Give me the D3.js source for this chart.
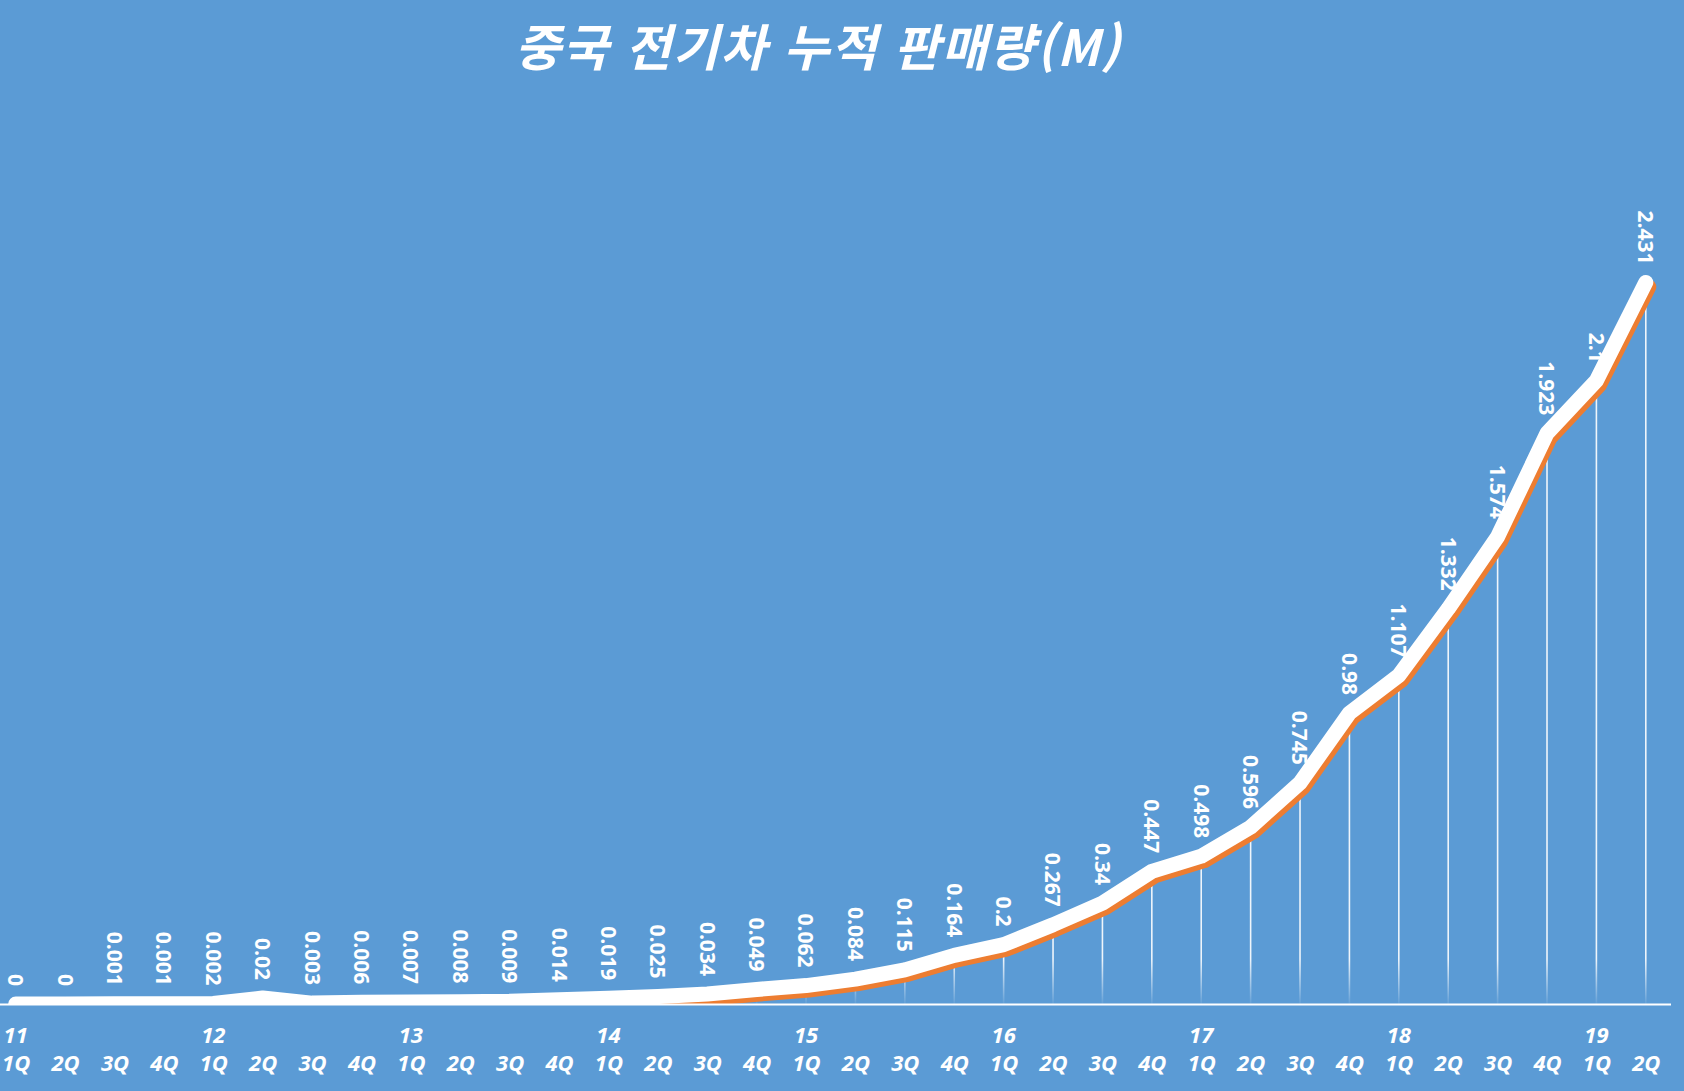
<!DOCTYPE html>
<html lang="ko">
<head>
<meta charset="utf-8">
<title>중국 전기차 누적 판매량</title>
<script src="https://cdn.jsdelivr.net/npm/d3@7"></script>
<style>
  html, body { margin: 0; padding: 0; background: #5b9bd5; overflow: hidden; }
</style>
</head>
<body>
<div id="line-chart"></div>
<script>
// Chart data
const years = ["11", "12", "13", "14", "15", "16", "17", "18", "19"];
const quarters = ["1Q", "2Q", "3Q", "4Q"];
const sales = [
  0, 0, 0.001, 0.001,
  0.002, 0.02, 0.003, 0.006,
  0.007, 0.008, 0.009, 0.014,
  0.019, 0.025, 0.034, 0.049,
  0.062, 0.084, 0.115, 0.164,
  0.2, 0.267, 0.34, 0.447,
  0.498, 0.596, 0.745, 0.98,
  1.107, 1.332, 1.574, 1.923,
  2.1, 2.431
];
const salesLabels = [
  "0", "0", "0.001", "0.001",
  "0.002", "0.02", "0.003", "0.006",
  "0.007", "0.008", "0.009", "0.014",
  "0.019", "0.025", "0.034", "0.049",
  "0.062", "0.084", "0.115", "0.164",
  "0.2", "0.267", "0.34", "0.447",
  "0.498", "0.596", "0.745", "0.98",
  "1.107", "1.332", "1.574", "1.923",
  "2.1", "2.431"
];
const chartTitle = "중국 전기차 누적 판매량(M)";

// One category per quarter, "11 1Q" ... "19 2Q"
const categories = years
  .flatMap(y => quarters.map(q => `${y} ${q}`))
  .slice(0, sales.length);

// Size of the page and of the plot area
const width = 1684;
const height = 1091;
const plot = { left: -9, right: 1670.5, top: 113.6, bottom: 1004 };

const svg = d3.select("#line-chart")
  .append("svg")
  .attr("width", width)
  .attr("height", height);

svg.append("rect")
  .attr("width", width)
  .attr("height", height)
  .attr("fill", "#5b9bd5");

// Scales
const x = d3.scalePoint()
  .domain(categories)
  .range([plot.left, plot.right])
  .padding(0.5);

const y = d3.scaleLinear()
  .domain([0, 3])
  .range([plot.bottom, plot.top]);

const points = categories.map((c, i) => ({ cat: c, value: sales[i], label: salesLabels[i] }));

// Clip everything to the plot area
const defs = svg.append("defs");
defs.append("clipPath")
  .attr("id", "plot-clip")
  .append("rect")
  .attr("x", plot.left)
  .attr("y", 0)
  .attr("width", plot.right - plot.left)
  .attr("height", plot.bottom);

// Drop lines fade out just above the axis
const fade = defs.append("linearGradient")
  .attr("id", "drop-fade")
  .attr("gradientUnits", "userSpaceOnUse")
  .attr("x1", 0).attr("x2", 0)
  .attr("y1", plot.bottom - 45).attr("y2", plot.bottom);
fade.append("stop").attr("offset", 0).attr("stop-color", "#fff").attr("stop-opacity", 0.9);
fade.append("stop").attr("offset", 1).attr("stop-color", "#fff").attr("stop-opacity", 0.05);

const plotGroup = svg.append("g").attr("clip-path", "url(#plot-clip)");

// Drop lines from each point down to the axis
plotGroup.selectAll(".drop-line")
  .data(points)
  .enter()
  .append("line")
  .attr("class", "drop-line")
  .attr("x1", d => x(d.cat))
  .attr("x2", d => x(d.cat))
  .attr("y1", d => y(d.value))
  .attr("y2", plot.bottom)
  .attr("stroke", "url(#drop-fade)")
  .attr("stroke-width", 1.6);

const line = d3.line()
  .x(d => x(d.cat))
  .y(d => y(d.value));

// Orange shadow behind the line
plotGroup.append("path")
  .datum(points)
  .attr("d", line)
  .attr("transform", "translate(3, 4.5)")
  .attr("fill", "none")
  .attr("stroke", "#ed7d31")
  .attr("stroke-width", 15)
  .attr("stroke-linejoin", "round")
  .attr("stroke-linecap", "round");

// The white line itself
plotGroup.append("path")
  .datum(points)
  .attr("d", line)
  .attr("fill", "none")
  .attr("stroke", "#ffffff")
  .attr("stroke-width", 15)
  .attr("stroke-linejoin", "round")
  .attr("stroke-linecap", "round");

// Category axis
const xAxis = svg.append("g")
  .attr("transform", `translate(0, ${plot.bottom})`)
  .call(d3.axisBottom(x)
    .tickSize(0)
    .tickSizeOuter(0)
    .tickFormat(d => d.split(" ")[1]));

xAxis.select(".domain")
  .attr("stroke", "#ffffff")
  .attr("stroke-width", 2);

xAxis.selectAll("text")
  .attr("y", 67)
  .attr("dy", 0)
  .attr("fill", "#ffffff")
  .style("font-family", "'Open Sans', 'Noto Sans', sans-serif")
  .style("font-size", "22px")
  .style("font-weight", "bold")
  .style("font-style", "italic");

// Year labels under the first quarter of each year
xAxis.selectAll(".year-label")
  .data(categories.filter(c => c.endsWith("1Q")))
  .enter()
  .append("text")
  .attr("class", "year-label")
  .attr("x", d => x(d))
  .attr("y", 39)
  .attr("text-anchor", "middle")
  .attr("fill", "#ffffff")
  .style("font-family", "'Open Sans', 'Noto Sans', sans-serif")
  .style("font-size", "22px")
  .style("font-weight", "bold")
  .style("font-style", "italic")
  .text(d => d.split(" ")[0]);

// Rotated value labels above each point
svg.selectAll(".value-label")
  .data(points)
  .enter()
  .append("text")
  .attr("class", "value-label")
  .attr("transform", d => `translate(${x(d.cat)}, ${y(d.value) - 18}) rotate(90)`)
  .attr("text-anchor", "end")
  .attr("dy", "0.36em")
  .attr("fill", "#ffffff")
  .style("font-family", "'Open Sans', 'Noto Sans', sans-serif")
  .style("font-size", "21px")
  .style("font-weight", "bold")
  .text(d => d.label);

// Title
svg.append("text")
  .attr("x", 818)
  .attr("y", 66)
  .attr("text-anchor", "middle")
  .attr("fill", "#ffffff")
  .style("font-family", "'Noto Sans CJK KR', sans-serif")
  .style("font-size", "50px")
  .style("font-weight", "bold")
  .style("font-style", "italic")
  .style("letter-spacing", "1.5px")
  .text(chartTitle);
</script>
</body>
</html>
